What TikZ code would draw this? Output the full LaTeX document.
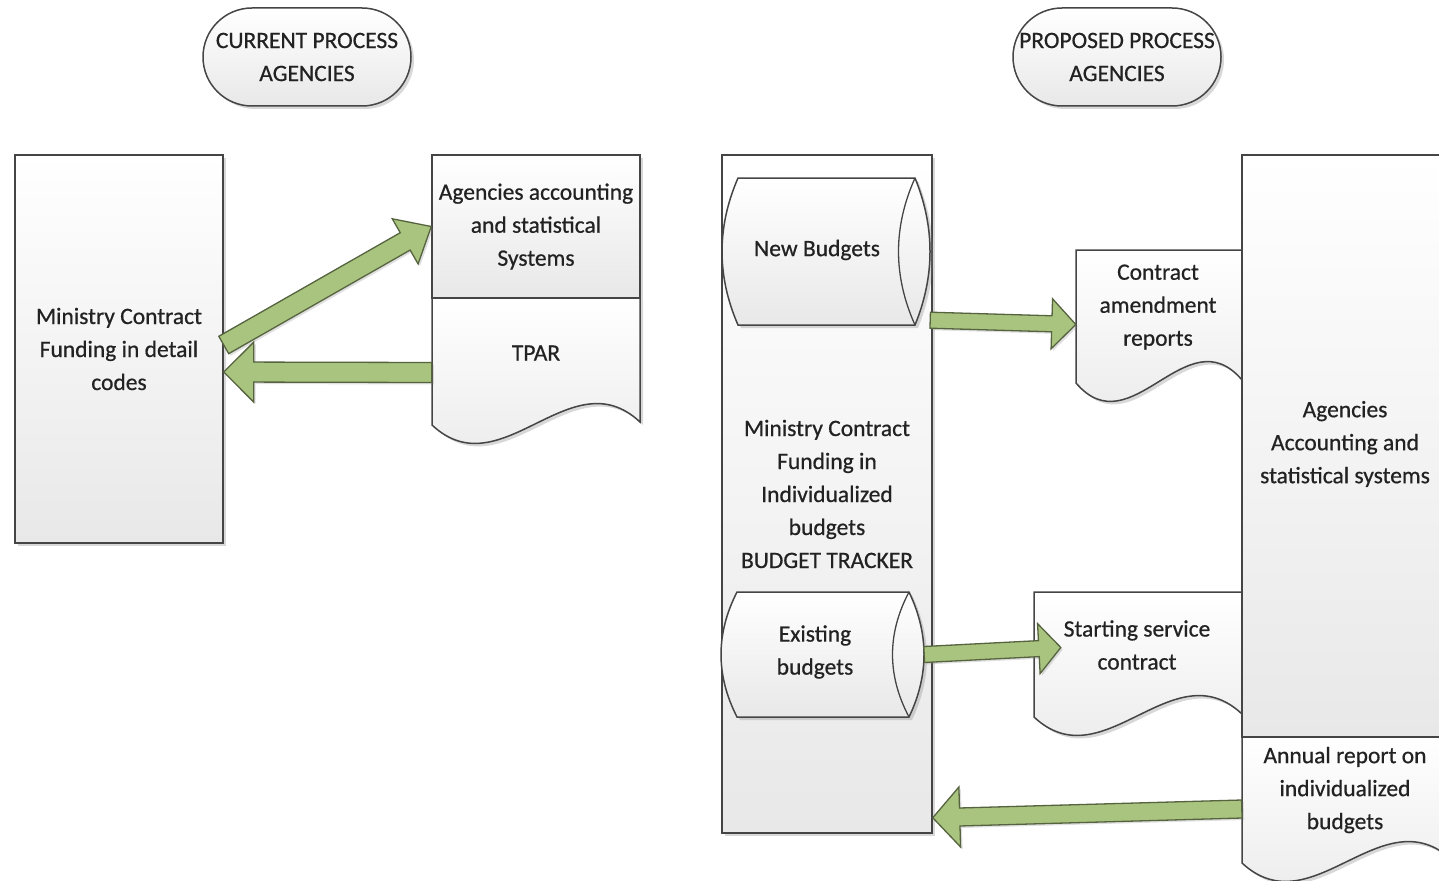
\documentclass[tikz,border=0pt]{standalone}
\usepackage{fontspec}
\setmainfont{Carlito}[FakeBold=0.6]
\usetikzlibrary{calc,shadows,fit}
\definecolor{arrfill}{HTML}{A9C47F}
\definecolor{arrline}{HTML}{56633F}
\definecolor{lineg}{HTML}{454545}
\definecolor{txtc}{HTML}{222222}
\tikzset{
  shp/.style={draw=lineg, line width=1.5pt, top color=white, bottom color=black!9,
    drop shadow={shadow xshift=3pt, shadow yshift=-3pt, opacity=0.3}},
  boxnode/.style={shp, rectangle, inner sep=0pt, align=center, text=txtc},
  txt/.style={align=center, text=txtc, inner sep=0pt},
  barrow/.style={draw=arrline, line width=1.3pt, fill=arrfill, line join=miter,
    drop shadow={shadow xshift=2pt, shadow yshift=-2pt, opacity=0.25}},
  holder/.style={inner sep=0pt, draw=none}
}
% block arrow: start, end, shaft half width, head half width, head length
\newcommand\blockarrow[5]{%
  \coordinate (bs) at #1; \coordinate (be) at #2;
  \coordinate (bh) at ($(be)!#5pt!(bs)$);
  \draw[barrow] ($(bs)!#3pt!90:(be)$) -- ($(bh)!#3pt!90:(be)$) -- ($(bh)!#4pt!90:(be)$) -- (be)
    -- ($(bh)!#4pt!-90:(be)$) -- ($(bh)!#3pt!-90:(be)$) -- ($(bs)!#3pt!-90:(be)$) -- cycle;}
% document shape: name, x0, ytop, x1, ybase
\newcommand\docshape[5]{%
  \path[shp] (#2,#3) -- (#4,#3) -- (#4,{#5-3})
    .. controls ({#4-(#4-#2)/3},{#5-3-65}) and ({#2+(#4-#2)/3},{#5+65}) .. (#2,#5) -- cycle;
  \coordinate (#1nw) at (#2,#3); \coordinate (#1se) at (#4,#5);
  \node[holder, fit=(#1nw)(#1se)] (#1) {};}
% horizontal cylinder: name, x0, y0, x1, y1
\newcommand\hcyl[5]{%
  \path[shp] ({#2+16},#3) -- ({#4-15},#3)
    .. controls ({#4+5},{#3+(#5-#3)/3}) and ({#4+5},{#5-(#5-#3)/3}) .. ({#4-15},#5)
    -- ({#2+16},#5)
    .. controls ({#2-5.3},{#5-(#5-#3)/3}) and ({#2-5.3},{#3+(#5-#3)/3}) .. ({#2+16},#3) -- cycle;
  \draw[draw=lineg, line width=1.3pt] ({#4-15},#3)
    .. controls ({#4-37},{#3+(#5-#3)/3}) and ({#4-37},{#5-(#5-#3)/3}) .. ({#4-15},#5);
  \coordinate (#1nw) at (#2,#3); \coordinate (#1se) at (#4,#5);
  \node[holder, fit=(#1nw)(#1se)] (#1) {};}
\begin{document}
\begin{tikzpicture}[x=1pt, y=-1pt, font=\fontsize{23.5}{33}\selectfont]
\useasboundingbox (0,0) rectangle (1439,880);
\clip (0,0) rectangle (1439,880);
\fill[white] (0,0) rectangle (1439,880);

% ---------- current process ----------
\node[boxnode, rounded corners=49pt, minimum width=208pt, minimum height=98pt] (cur) at (307,57) {CURRENT PROCESS\\AGENCIES};
\node[boxnode, minimum width=208pt, minimum height=388pt] (lbox) at (119,349) {Ministry Contract\\Funding in detail\\codes};
\node[boxnode, minimum width=208pt, minimum height=143pt] (agen) at (536,226.5) {Agencies accounting\\and statistical\\Systems};
\docshape{tpar}{432}{298}{640}{425}
\node[txt] (tpartxt) at (536,353) {TPAR};

\blockarrow{($(lbox.east)+(0,-4)$)}{(agen.west)}{10}{26}{30}
\blockarrow{($(tpar.west)+(0,11)$)}{($(lbox.east)+(0,23)$)}{10}{30}{30}

% ---------- proposed process ----------
\node[boxnode, rounded corners=49pt, minimum width=208pt, minimum height=98pt] (prop) at (1117,57) {PROPOSED PROCESS\\AGENCIES};
\node[boxnode, minimum width=210pt, minimum height=678pt] (mid) at (827,494) {Ministry Contract\\Funding in\\Individualized\\budgets\\BUDGET TRACKER};
\hcyl{nb}{722}{178}{930}{325}
\node[txt] (nbtxt) at (817,250) {New Budgets};
\hcyl{eb}{721}{592}{924}{717}
\node[txt] (ebtxt) at (815,652) {Existing\\budgets};

\docshape{ca}{1076}{250}{1242}{383}
\node[txt] (catxt) at (1158,307) {Contract\\amendment\\reports};
\docshape{ss}{1034}{592}{1242}{717}
\node[txt] (sstxt) at (1137,645) {Starting service\\contract};
\node[boxnode, minimum width=210pt, minimum height=582pt] (acc) at (1347,446) {};
\node[txt] (acctxt) at (1345,444) {Agencies\\Accounting and\\statistical systems};
\docshape{ann}{1242}{737}{1452}{863}
\node[txt] (anntxt) at (1345,790) {Annual report on\\individualized\\budgets};

\blockarrow{($(nb.south east)+(0,-5)$)}{($(ca.west)+(0,8)$)}{8}{25}{24}
\blockarrow{(eb.east)}{($(ss.west)+(27,-7)$)}{8}{25}{22}
\blockarrow{($(ann.west)+(0,9)$)}{($(mid.south east)+(0,-16)$)}{9}{30}{27}
\end{tikzpicture}
\end{document}
